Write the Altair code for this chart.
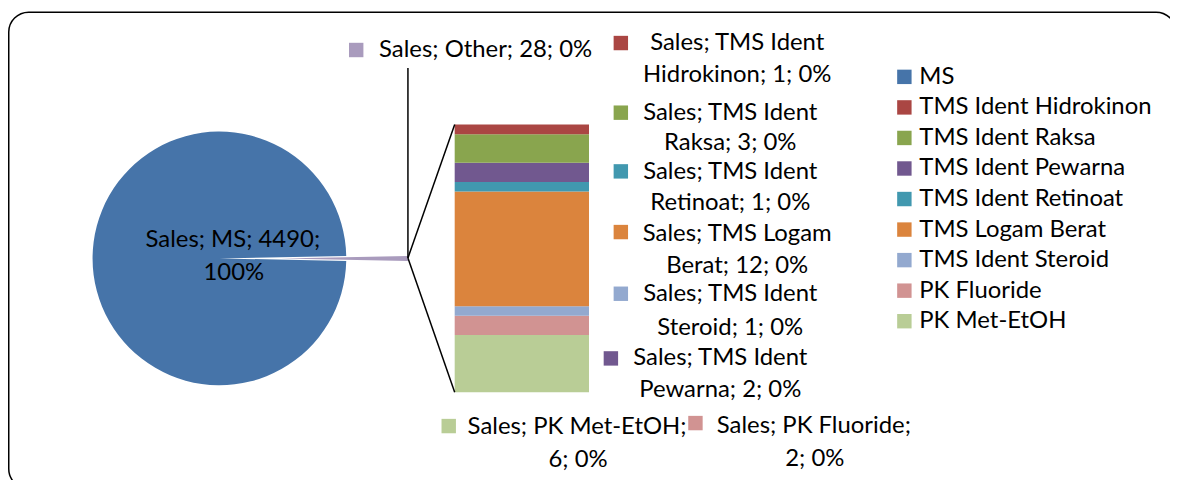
import math
import altair as alt
import pandas as pd

# ---------------- data ----------------
pie_cats = ["Other", "MS"]
pie_vals = [28, 4490]

bar_cats = ["PK Met-EtOH", "PK Fluoride", "TMS Ident Steroid", "TMS Logam Berat",
            "TMS Ident Retinoat", "TMS Ident Pewarna", "TMS Ident Raksa", "TMS Ident Hidrokinon"]
bar_vals = [6, 2, 1, 12, 1, 2, 3, 1]

legend_order = ["MS", "TMS Ident Hidrokinon", "TMS Ident Raksa", "TMS Ident Pewarna",
                "TMS Ident Retinoat", "TMS Logam Berat", "TMS Ident Steroid",
                "PK Fluoride", "PK Met-EtOH"]

all_cats = ["MS", "Other", "TMS Ident Hidrokinon", "TMS Ident Raksa", "TMS Ident Pewarna",
            "TMS Ident Retinoat", "TMS Logam Berat", "TMS Ident Steroid",
            "PK Fluoride", "PK Met-EtOH"]
all_colors = ["#4674A9", "#A99BBD", "#AA4643", "#89A54E", "#71588F",
              "#4198AF", "#DB843D", "#93A9CF", "#D19392", "#B9CD96"]

# data labels (category, first line, second line)
lab_cats = ["Other", "MS", "TMS Ident Hidrokinon", "TMS Ident Raksa", "TMS Ident Retinoat",
            "TMS Logam Berat", "TMS Ident Steroid", "TMS Ident Pewarna",
            "PK Met-EtOH", "PK Fluoride"]
lab_line1 = ["Sales; Other; 28; 0%", "Sales; MS; 4490;", "Sales; TMS Ident", "Sales; TMS Ident",
             "Sales; TMS Ident", "Sales; TMS Logam", "Sales; TMS Ident", "Sales; TMS Ident",
             "Sales; PK Met-EtOH;", "Sales; PK Fluoride;"]
lab_line2 = ["", "100%", "Hidrokinon; 1; 0%", "Raksa; 3; 0%", "Retinoat; 1; 0%",
             "Berat; 12; 0%", "Steroid; 1; 0%", "Pewarna; 2; 0%", "6; 0%", "2; 0%"]

# ---------------- layout (chart pixel coords) ----------------
W, H = 1168, 472
FONT = "Lato"
FS = 24
PIE_CX, PIE_CY, PIE_R, EXPLODE = 212.5, 250.5, 127.5, 62
# label layout: square centre, line1 anchor, line2 anchor
sq_pos = [(350, 41), None, (616, 34), (616, 104), (616, 163), (616, 224), (616, 286),
          (606, 351), (443, 419), (691, 416)]
l1_pos = [(373, 41, "left"), (226, 232, "center"), (733, 34, "center"), (726, 104, "center"),
          (726, 164, "center"), (733, 226, "center"), (726, 286, "center"), (716, 351, "center"),
          (572, 420, "center"), (810, 419, "center")]
l2_pos = [None, (227, 265, "center"), (733, 66, "center"), (726, 135, "center"),
          (726, 195, "center"), (733, 258, "center"), (726, 320, "center"), (716, 383, "center"),
          (573, 453, "center"), (811, 452, "center")]

color_scale = alt.Scale(domain=all_cats, range=all_colors)
legend = alt.Legend(values=legend_order, orient="none", legendX=889, legendY=56,
                    symbolType="square", symbolSize=210, symbolStrokeWidth=0,
                    labelFont=FONT, labelFontSize=FS, labelColor="black", labelOffset=3,
                    rowPadding=6.7, title=None, labelLimit=400)

# ---------------- pie (Other slice exploded) ----------------
pie_df = pd.DataFrame({"cat": pie_cats, "value": pie_vals, "ord": [0, 1]})
total = sum(pie_vals)
other_ang = pie_vals[0] / total * 2 * math.pi
a0 = math.pi / 2 - other_ang / 2
theta_scale = alt.Scale(domain=[0, total], range=[a0, a0 + 2 * math.pi])
pie_base = alt.Chart(pie_df).transform_stack(
    stack="value", groupby=[], as_=["t0", "t1"], sort=[alt.SortField("ord")])
pie_ms = pie_base.transform_filter(alt.datum.cat == "MS").mark_arc(radius=PIE_R).encode(
    theta=alt.Theta("t0:Q", scale=theta_scale), theta2="t1:Q",
    color=alt.Color("cat:N", scale=color_scale, legend=legend),
    x=alt.value(PIE_CX), y=alt.value(PIE_CY),
)
pie_other = pie_base.transform_filter(alt.datum.cat == "Other").mark_arc(radius=PIE_R).encode(
    theta=alt.Theta("t0:Q", scale=theta_scale), theta2="t1:Q",
    color=alt.Color("cat:N", scale=color_scale, legend=legend),
    x=alt.value(PIE_CX + EXPLODE), y=alt.value(PIE_CY),
)

# ---------------- stacked bar ----------------
bar_df = pd.DataFrame({"cat": bar_cats, "value": bar_vals, "ord": list(range(len(bar_cats)))})
bar = alt.Chart(bar_df).transform_stack(
    stack="value", groupby=[], as_=["y0", "y1"], sort=[alt.SortField("ord")]
).mark_bar().encode(
    y=alt.Y("y0:Q", scale=alt.Scale(domain=[0, sum(bar_vals)], range=[385, 116]), axis=None),
    y2="y1:Q",
    x=alt.value(449), x2=alt.value(584),
    color=alt.Color("cat:N", scale=color_scale, legend=legend),
)

# ---------------- connector lines ----------------
one = pd.DataFrame({"a": [0]})
rules = []
for (xa, ya, xb, yb) in [(402, 59, 402, 250), (402, 250, 449, 116), (402, 250, 449, 385)]:
    rules.append(alt.Chart(one).mark_rule(color="black", strokeWidth=1.5).encode(
        x=alt.value(xa), y=alt.value(ya), x2=alt.value(xb), y2=alt.value(yb)))

# ---------------- labels ----------------
rows_sq, rows_txt = [], []
for i, c in enumerate(lab_cats):
    if sq_pos[i]:
        rows_sq.append({"cat": c, "px": sq_pos[i][0], "py": sq_pos[i][1]})
    rows_txt.append({"t": lab_line1[i], "px": l1_pos[i][0], "py": l1_pos[i][1], "al": l1_pos[i][2]})
    if l2_pos[i]:
        rows_txt.append({"t": lab_line2[i], "px": l2_pos[i][0], "py": l2_pos[i][1], "al": l2_pos[i][2]})
sq_df = pd.DataFrame(rows_sq)
txt_df = pd.DataFrame(rows_txt)

squares = alt.Chart(sq_df).mark_square(size=210, opacity=1, strokeWidth=0).encode(
    x=alt.X("px:Q", scale=alt.Scale(domain=[0, W], range=[0, W]), axis=None),
    y=alt.Y("py:Q", scale=alt.Scale(domain=[0, H], range=[0, H]), axis=None),
    color=alt.Color("cat:N", scale=color_scale, legend=legend),
)

texts = []
for al in ["left", "center"]:
    texts.append(alt.Chart(txt_df[txt_df.al == al]).mark_text(
        font=FONT, fontSize=FS, color="black", align=al, baseline="middle").encode(
        x=alt.X("px:Q", scale=alt.Scale(domain=[0, W], range=[0, W]), axis=None),
        y=alt.Y("py:Q", scale=alt.Scale(domain=[0, H], range=[0, H]), axis=None),
        text="t:N"))

# ---------------- border ----------------
border = alt.Chart(one).mark_rect(cornerRadius=20, fillOpacity=0, stroke="black",
                                   strokeWidth=1.5).encode(
    x=alt.value(0.75), x2=alt.value(1174), y=alt.value(3), y2=alt.value(482))

chart = alt.layer(border, pie_ms, pie_other, bar, *rules, squares, *texts).resolve_scale(
    x="independent", y="independent"
).properties(width=W, height=H, autosize="none", padding=0).configure_view(stroke=None)

chart.save("out.html", embed_options={"renderer": "svg", "actions": False})
